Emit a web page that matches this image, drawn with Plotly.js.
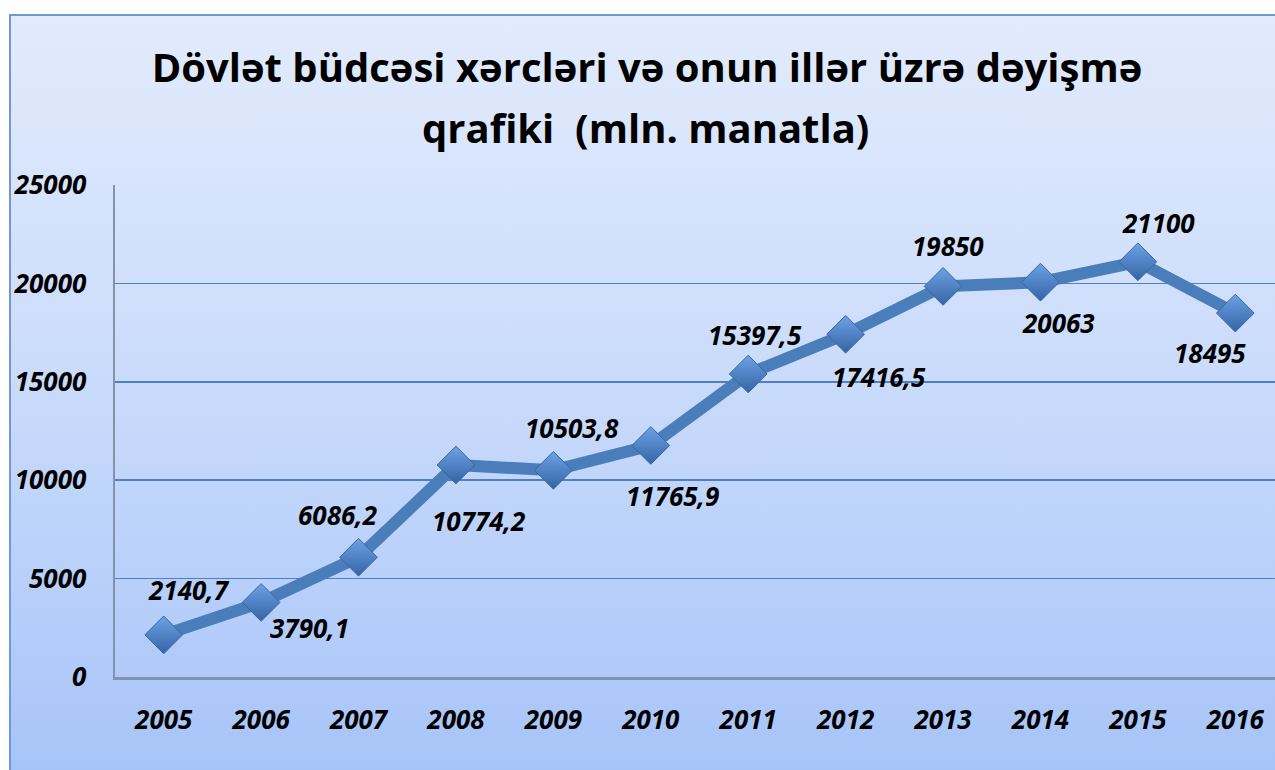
<!DOCTYPE html>
<html>
<head>
<meta charset="utf-8">
<script src="https://cdn.plot.ly/plotly-3.0.1.min.js"></script>
<style>
  html, body { margin: 0; padding: 0; width: 1275px; height: 770px; overflow: hidden; background: #ffffff; }
  #bg { position: absolute; left: 9px; top: 14px; width: 1300px; height: 780px;
        border: 2px solid #6e99d4; box-sizing: border-box;
        background: linear-gradient(to bottom, #e2ebfc 0%, #c8dafb 50%, #a5c3f8 100%); }
  #chart { position: absolute; left: 0; top: 0; width: 1310px; height: 770px; }
</style>
</head>
<body>
<div id="bg"></div>
<div id="chart"></div>
<script>
// ---- data ----
const years = ['2005','2006','2007','2008','2009','2010','2011','2012','2013','2014','2015','2016'];
const expenses = [2140.7, 3790.1, 6086.2, 10774.2, 10503.8, 11765.9, 15397.5, 17416.5, 19850, 20063, 21100, 18495];
const valueLabels = ['2140,7','3790,1','6086,2','10774,2','10503,8','11765,9','15397,5','17416,5','19850','20063','21100','18495'];
const yTicks = [0, 5000, 10000, 15000, 20000, 25000];
const titleLine1 = 'Dövlət büdcəsi xərcləri və onun illər üzrə dəyişmə';
const titleLine2 = 'qrafiki  (mln. manatla)';

// ---- label placement (pixel offsets, styling only) ----
const labelDx = [25, 48, -21, 23, 19, 22, 7, 33, 5, 18, 21, -25];
const labelDy = [45, -26, 42, -56, 42, -51, 39, -43, 40, -41, 39, -40];

const FONT = '"Open Sans", "Noto Sans", sans-serif';
const W = 1310, H = 770;

const trace = {
  type: 'scatter',
  mode: 'lines+markers',
  x: years,
  y: expenses,
  line: { color: '#4a7ebb', width: 12 },
  marker: {
    symbol: 'diamond',
    size: 29,
    color: '#6ea2e4',
    gradient: { type: 'vertical', color: '#3364a6' },
    line: { color: '#3a679f', width: 1 }
  },
  hoverinfo: 'x+y'
};

const annotations = years.map((yr, i) => ({
  x: i, y: expenses[i], xref: 'x', yref: 'y',
  text: '<b><i>' + valueLabels[i] + '</i></b>',
  showarrow: false,
  xshift: labelDx[i], yshift: labelDy[i],
  font: { family: FONT, size: 26, color: '#000000' }
}));

annotations.push({
  text: '<b>' + titleLine2 + '</b>',
  xref: 'paper', yref: 'paper',
  x: (645 - 115) / (W - 115 - 26), xanchor: 'center',
  y: 1 + (185 - 128) / (H - 185 - 93), yanchor: 'middle',
  showarrow: false,
  font: { family: FONT, size: 40, color: '#000000' }
});

const layout = {
  width: W, height: H,
  paper_bgcolor: 'rgba(0,0,0,0)',
  plot_bgcolor: 'rgba(0,0,0,0)',
  margin: { l: 115, r: 26, t: 185, b: 93 },
  showlegend: false,
  title: {
    text: '<b>' + titleLine1 + '</b>',
    x: 647 / W, xanchor: 'center', xref: 'container',
    y: 1 - 68 / H, yanchor: 'middle', yref: 'container',
    font: { family: FONT, size: 40, color: '#000000' }
  },
  xaxis: {
    type: 'category',
    range: [-0.5, 11.5],
    showgrid: false,
    showline: true, linecolor: '#8593aa', linewidth: 2.5,
    ticks: '', ticklabelstandoff: 18,
    tickfont: { family: FONT, size: 26, color: '#000000', weight: 'bold', style: 'italic' },
    fixedrange: true
  },
  yaxis: {
    range: [0, 25002],
    tickvals: yTicks,
    ticktext: yTicks.map(String),
    showgrid: true, gridcolor: '#4f80c2', gridwidth: 1.6,
    zeroline: false,
    showline: true, linecolor: '#8593aa', linewidth: 2.5,
    ticks: '', ticklabelstandoff: 21,
    tickfont: { family: FONT, size: 26, color: '#000000', weight: 'bold', style: 'italic' },
    fixedrange: true
  },
  annotations: annotations
};

Plotly.newPlot('chart', [trace], layout, { displayModeBar: false, staticPlot: true });
</script>
</body>
</html>
